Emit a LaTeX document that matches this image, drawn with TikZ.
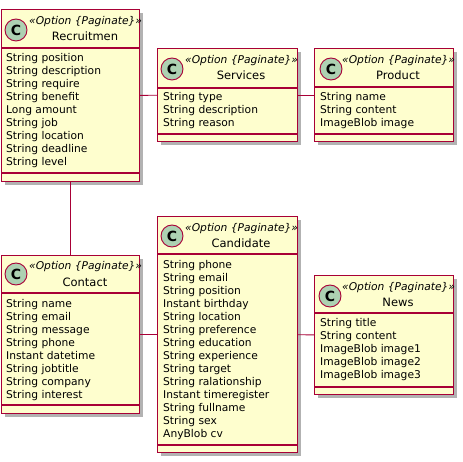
\documentclass[tikz,border=0pt]{standalone}
\usepackage{fontspec}
\setmainfont{DejaVu Sans}
\usetikzlibrary{shadows}

\definecolor{class-fill}{HTML}{FEFECE}
\definecolor{class-border}{HTML}{A80036}
\definecolor{class-mark}{HTML}{ADD1B2}

\tikzstyle{class-box}=[rectangle, anchor=north west, draw=class-border, line width=1.1pt, fill=class-fill, inner sep=0pt,
    drop shadow={shadow xshift=3pt, shadow yshift=-3pt, opacity=0.3, fill=black}]
\tikzstyle{class-sep}=[draw=class-border, line width=1.1pt]
\tikzstyle{class-link}=[draw=class-border, line width=0.9pt]
\tikzstyle{class-spot}=[circle, draw=class-border, line width=0.9pt, fill=class-mark, minimum size=22pt, inner sep=0pt,
    font=\fontsize{14}{14}\selectfont\bfseries]
\tikzstyle{class-stereo}=[anchor=west, inner sep=0pt, font=\fontsize{10.7}{13}\selectfont\itshape]
\tikzstyle{class-name}=[inner sep=0pt, font=\fontsize{11.5}{13}\selectfont]
\tikzstyle{class-attrs}=[anchor=north west, inner sep=0pt, align=left, font=\fontsize{10.7}{13}\selectfont]

\begin{document}
\begin{tikzpicture}[x=1pt, y=-1pt]
  \useasboundingbox (0,0) rectangle (463,462);

  % Recruitmen
  \node (recruitmen) at (1, 9) [class-box, minimum width=138pt, minimum height=172pt] {};
  \draw[class-sep] (recruitmen.west |- 0,48) -- (recruitmen.east |- 0,48);
  \draw[class-sep] (recruitmen.west |- 0,173) -- (recruitmen.east |- 0,173);
  \node (recruitmen-spot) at (16, 30) [class-spot] {C};
  \node (recruitmen-stereo) at (29, 22) [class-stereo] {«Option \{Paginate\}»};
  \node (recruitmen-name) at (85, 36) [class-name] {Recruitmen};
  \node (recruitmen-attrs) at (6, 53) [class-attrs]
        {String position\\String description\\String require\\String benefit\\Long amount\\
         String job\\String location\\String deadline\\String level};

  % Services
  \node (services) at (157, 48) [class-box, minimum width=140pt, minimum height=93pt] {};
  \draw[class-sep] (services.west |- 0,88) -- (services.east |- 0,88);
  \draw[class-sep] (services.west |- 0,134) -- (services.east |- 0,134);
  \node (services-spot) at (172, 69) [class-spot] {C};
  \node (services-stereo) at (185, 61) [class-stereo] {«Option \{Paginate\}»};
  \node (services-name) at (241, 75) [class-name] {Services};
  \node (services-attrs) at (163, 92) [class-attrs]
        {String type\\String description\\String reason};

  % Product
  \node (product) at (314, 48) [class-box, minimum width=139pt, minimum height=93pt] {};
  \draw[class-sep] (product.west |- 0,87) -- (product.east |- 0,87);
  \draw[class-sep] (product.west |- 0,134) -- (product.east |- 0,134);
  \node (product-spot) at (331, 69) [class-spot] {C};
  \node (product-stereo) at (342, 61) [class-stereo] {«Option \{Paginate\}»};
  \node (product-name) at (398, 75) [class-name] {Product};
  \node (product-attrs) at (320, 92) [class-attrs]
        {String name\\String content\\ImageBlob image};

  % Contact
  \node (contact) at (1, 255) [class-box, minimum width=138pt, minimum height=158pt] {};
  \draw[class-sep] (contact.west |- 0,293) -- (contact.east |- 0,293);
  \draw[class-sep] (contact.west |- 0,405) -- (contact.east |- 0,405);
  \node (contact-spot) at (16, 274) [class-spot] {C};
  \node (contact-stereo) at (29, 267) [class-stereo] {«Option \{Paginate\}»};
  \node (contact-name) at (85, 282) [class-name] {Contact};
  \node (contact-attrs) at (6, 299) [class-attrs]
        {String name\\String email\\String message\\String phone\\Instant datetime\\
         String jobtitle\\String company\\String interest};

  % Candidate
  \node (candidate) at (157, 216) [class-box, minimum width=140pt, minimum height=236pt] {};
  \draw[class-sep] (candidate.west |- 0,254) -- (candidate.east |- 0,254);
  \draw[class-sep] (candidate.west |- 0,445) -- (candidate.east |- 0,445);
  \node (candidate-spot) at (172, 236) [class-spot] {C};
  \node (candidate-stereo) at (185, 229) [class-stereo] {«Option \{Paginate\}»};
  \node (candidate-name) at (241, 243) [class-name] {Candidate};
  \node (candidate-attrs) at (163, 260) [class-attrs]
        {String phone\\String email\\String position\\Instant birthday\\String location\\
         String preference\\String education\\String experience\\String target\\
         String ralationship\\Instant timeregister\\String fullname\\String sex\\AnyBlob cv};

  % News
  \node (news) at (314, 275) [class-box, minimum width=139pt, minimum height=119pt] {};
  \draw[class-sep] (news.west |- 0,313) -- (news.east |- 0,313);
  \draw[class-sep] (news.west |- 0,387) -- (news.east |- 0,387);
  \node (news-spot) at (330, 296) [class-spot] {C};
  \node (news-stereo) at (342, 288) [class-stereo] {«Option \{Paginate\}»};
  \node (news-name) at (398, 302) [class-name] {News};
  \node (news-attrs) at (320, 318) [class-attrs]
        {String title\\String content\\ImageBlob image1\\ImageBlob image2\\ImageBlob image3};

  % links
  \draw[class-link] (recruitmen) -- (services);
  \draw[class-link] (services) -- (product);
  \draw[class-link] (recruitmen) -- (contact);
  \draw[class-link] (contact) -- (candidate);
  \draw[class-link] (candidate) -- (news);
\end{tikzpicture}
\end{document}
